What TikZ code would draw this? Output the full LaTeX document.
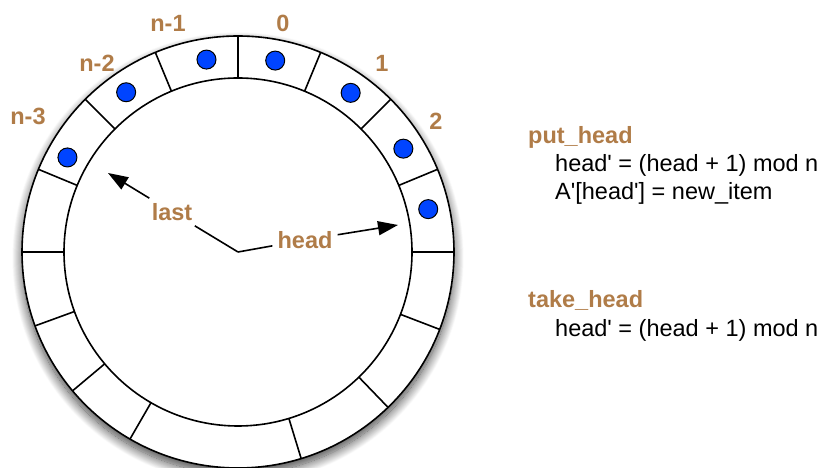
\documentclass[tikz,border=0pt]{standalone}
\usepackage{fontspec}
\setmainfont{Liberation Sans}
\usepackage{tikz}
\usetikzlibrary{arrows.meta,positioning,shadows.blur}

\definecolor{labelbrown}{RGB}{176,124,72}
\definecolor{itemblue}{RGB}{0,68,255}
\newcommand{\sq}{\textquotesingle}

\begin{document}
\begin{tikzpicture}[
    x=1pt, y=1pt,
    ring/.style={draw, line width=1.6pt},
    item/.style={circle, draw, fill=itemblue, line width=1pt, minimum size=19pt, inner sep=0pt},
    idx/.style={font=\fontsize{23.5}{28}\selectfont\bfseries, text=labelbrown, inner sep=0pt},
    ptr/.style={font=\fontsize{23.5}{28}\selectfont\bfseries, text=labelbrown, inner sep=5pt},
    op/.style={font=\fontsize{23.5}{28}\selectfont\bfseries, text=labelbrown, anchor=base west, inner sep=0pt},
    code/.style={font=\fontsize{23.5}{28}\selectfont, anchor=base west, inner sep=0pt},
    pointer/.style={line width=1.6pt, -{Triangle[length=20pt,width=14pt,fill=black]}}
]
\useasboundingbox (0,0) rectangle (825,468);
\coordinate (C) at (238,216);

% ring with its slots
\fill[white, blur shadow={shadow xshift=0pt, shadow yshift=-6pt, shadow blur radius=10pt, shadow blur steps=20, shadow opacity=75}] (C) circle (216);
\draw[ring] (C) circle (216);
\draw[ring] (C) circle (174);
\foreach \a in {0,22.5,45,67.5,90,112.5,135,157.5,180,200,220,240,287,314,339}
  \draw[ring] (C) ++(\a:174) -- ++(\a:42);

% stored items
\foreach \a [count=\i] in {12.7,32,54.7,79,99.3,125,151}
  \node[item] (item\i) at ([shift={(\a:195)}]C) {};

% slot indices
\foreach \t/\x/\y [count=\i] in {n-3/28/352, n-2/97/405, n-1/168/445, 0/283/445, 1/382/405, 2/436/347}
  \node[idx] (idx\i) at (\x,\y) {\t};

% pointers
\node[ptr] (last) at (172,256) {last};
\coordinate (lasttip) at (108,295);
\node[ptr] (head) at (305,228) {head};
\coordinate (headtip) at (398,243);
\draw[pointer, -] (C) -- (last);
\draw[pointer] (last) -- (lasttip);
\draw[pointer, -] (C) -- (head);
\draw[pointer] (head) -- (headtip);

% operations
\node[op] (put) at (528,324) {put\_head};
\node[code] (put1) at (555,296) {head\sq{} = (head + 1) mod n};
\node[code] (put2) at (555,268) {A\sq[head\sq] = new\_item};
\node[op] (take) at (528,160) {take\_head};
\node[code] (take1) at (555,131) {head\sq{} = (head + 1) mod n};
\end{tikzpicture}
\end{document}
